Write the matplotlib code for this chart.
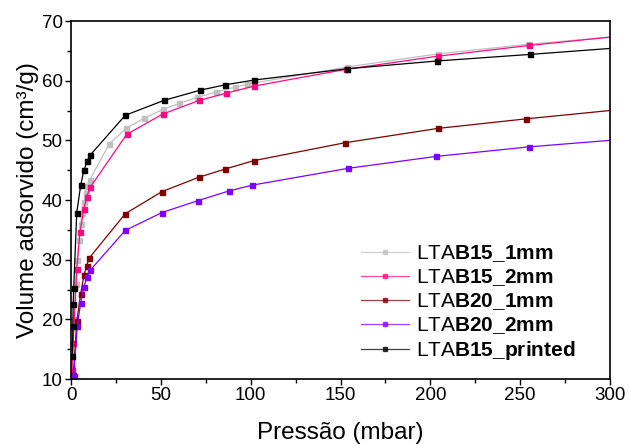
import matplotlib.pyplot as plt

plt.rcParams['font.family'] = ['Liberation Sans', 'DejaVu Sans']
plt.rcParams['mathtext.fontset'] = 'custom'
plt.rcParams['mathtext.rm'] = 'Liberation Sans'
plt.rcParams['mathtext.bf'] = 'Liberation Sans:bold'

# LTA B15 1mm (grey)
x_b15_1 = [0.6, 1.5, 2.5, 3.5, 4.3, 5.3, 6.1, 7.2, 8.3, 9.0, 10.3, 21.3, 30.6, 40.6, 51.4,
           60.3, 70.3, 80.7, 91.0, 97.8, 153.8, 204.4, 254.5, 300]
y_b15_1 = [12.0, 20.0, 26.0, 29.9, 33.3, 35.9, 37.9, 39.7, 41.1, 42.4, 43.3, 49.4, 52.0, 53.7, 55.2,
           56.2, 57.2, 58.1, 58.9, 59.4, 62.3, 64.5, 66.1, 67.3]

# LTA B15 2mm (pink)
x_b15_2 = [0.5, 1.2, 3.2, 5.0, 7.2, 8.7, 10.6, 31.0, 51.0, 71.4, 86.3, 102.0, 153.0, 204.0, 255.0, 300]
y_b15_2 = [11.5, 16.1, 28.4, 34.7, 38.5, 40.5, 42.1, 51.0, 54.4, 56.7, 57.9, 59.1, 61.9, 64.1, 65.9, 67.3]

# LTA B20 1mm (dark red)
x_b20_1 = [1.3, 3.2, 5.4, 7.2, 8.7, 10.2, 30.2, 50.6, 71.0, 85.9, 101.8, 152.5, 204.2, 253.2, 300]
y_b20_1 = [10.7, 19.7, 24.3, 27.4, 29.0, 30.3, 37.7, 41.4, 43.8, 45.2, 46.6, 49.6, 52.0, 53.6, 55.0]

# LTA B20 2mm (purple)
x_b20_2 = [1.5, 3.5, 5.4, 7.2, 9.0, 10.6, 30.2, 50.6, 70.7, 87.7, 101.0, 154.0, 203.0, 254.7, 300]
y_b20_2 = [10.5, 18.9, 22.8, 25.5, 27.1, 28.2, 34.9, 37.9, 39.9, 41.5, 42.5, 45.3, 47.3, 48.9, 50.0]

# LTA B15 printed (black)
x_print = [0.8, 1.0, 1.2, 1.5, 3.2, 5.4, 7.2, 9.0, 10.6, 30.2, 51.8, 71.8, 85.7, 101.8,
           153.8, 203.7, 255.4, 300]
y_print = [13.9, 18.9, 22.6, 25.3, 37.9, 42.5, 45.0, 46.5, 47.5, 54.2, 56.7, 58.4, 59.3, 60.1,
           62.0, 63.3, 64.4, 65.4]

series = [
    (x_b15_1, y_b15_1, '#c0c0c0', r'LTA$\mathbf{B15\_1mm}$'),
    (x_b15_2, y_b15_2, '#ff0a80', r'LTA$\mathbf{B15\_2mm}$'),
    (x_b20_1, y_b20_1, '#800000', r'LTA$\mathbf{B20\_1mm}$'),
    (x_b20_2, y_b20_2, '#8000ff', r'LTA$\mathbf{B20\_2mm}$'),
    (x_print, y_print, '#000000', r'LTA$\mathbf{B15\_printed}$'),
]

fig = plt.figure(figsize=(6.29, 4.45), dpi=100)
ax = fig.add_axes([0.1129, 0.1483, 0.857, 0.8045])

for xs, ys, c, lab in series:
    # last point sits on the right edge, no marker drawn there
    ax.plot(xs, ys, color=c, label=lab, marker='s', markersize=3.6, linewidth=0.9,
            markevery=slice(0, len(xs) - 1))

ax.set_xlim(0, 300)
ax.set_ylim(10, 70)
ax.set_xticks(range(0, 301, 50))
ax.set_xticks(range(25, 300, 50), minor=True)
ax.set_yticks(range(10, 71, 10))
ax.set_yticks(range(15, 70, 10), minor=True)
ax.tick_params(axis='both', which='major', direction='out', length=4, width=1,
               labelsize=13.5, pad=2)
ax.tick_params(axis='both', which='minor', direction='out', length=3, width=1)
for s in ax.spines.values():
    s.set_linewidth(1.2)

ax.set_xlabel('Pressão (mbar)', fontsize=17.5, labelpad=13)
ax.set_ylabel('Volume adsorvido (cm³/g)', fontsize=17.5, labelpad=2)

leg = ax.legend(loc='lower right', bbox_to_anchor=(0.97, -0.005), frameon=False, fontsize=15,
                handlelength=2.3, handletextpad=0.3, labelspacing=0.15, markerscale=0.8)
for h in leg.get_lines():
    h.set_alpha(0.75)

fig.savefig('out.png', dpi=100)
